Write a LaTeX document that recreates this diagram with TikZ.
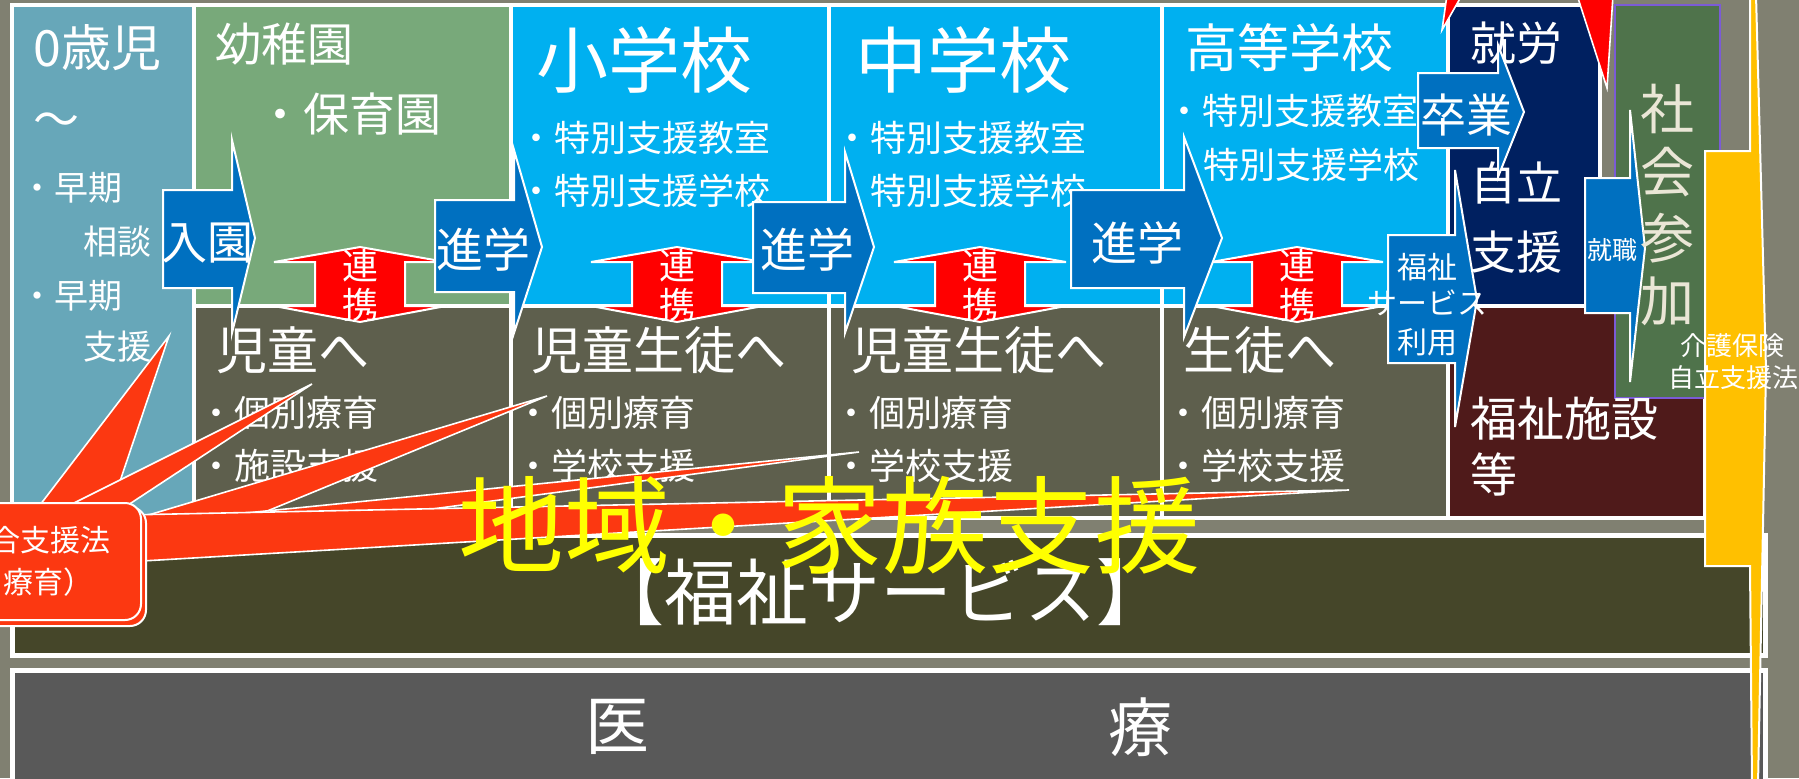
\documentclass[tikz,border=0pt]{standalone}
\usepackage{fontspec}
\setmainfont{Noto Sans CJK JP}
\newcommand\sz[1]{\fontsize{#1}{#1}\selectfont}
\definecolor{bgc}{HTML}{808071}
\definecolor{babyc}{HTML}{67A7B9}
\definecolor{kinderc}{HTML}{78A97A}
\definecolor{schoolc}{HTML}{00B0F0}
\definecolor{lowc}{HTML}{5E5F4D}
\definecolor{navyc}{HTML}{002060}
\definecolor{maroonc}{HTML}{4F1A1A}
\definecolor{shakaic}{HTML}{4F734B}
\definecolor{purpc}{HTML}{7B5BD6}
\definecolor{welfc}{HTML}{454629}
\definecolor{medic}{HTML}{595959}
\definecolor{arrc}{HTML}{0070C0}
\definecolor{calloutc}{HTML}{FC3811}
\definecolor{kaigoc}{HTML}{FFC000}
\definecolor{chiikic}{HTML}{FFFF00}
\definecolor{creamc}{HTML}{EAE6D6}
\begin{document}
\begin{tikzpicture}[x=0.5pt,y=-0.5pt,
  box/.style={draw=white,line width=2pt},
  wt/.style={text=white,inner sep=0pt,anchor=west},
  ct/.style={text=white,inner sep=0pt},
  arr/.style={fill=arrc,draw=white,line width=1pt},
  renkei/.style={fill=red,draw=white,line width=1pt},
  spike/.style={fill=calloutc,draw=white,line width=0.8pt}]
\useasboundingbox (0,0) rectangle (1799,778);
\clip (0,0) rectangle (1799,778);
\fill[bgc] (0,0) rectangle (1799,778);
% bottom bands
\path[box,line width=2.5pt,fill=welfc] (12,535) rectangle (1765,655);
\path[box,line width=2.5pt,fill=medic] (12,670) rectangle (1765,795);
% top boxes
\path[box,fill=babyc] (12,5) rectangle (194,518);
\path[box,fill=kinderc] (194,5) rectangle (511,306);
\path[box,fill=schoolc] (511,5) rectangle (829,306);
\path[box,fill=schoolc] (829,5) rectangle (1162,306);
\path[box,fill=schoolc] (1162,5) rectangle (1448,306);
\path[box,fill=lowc] (194,306) rectangle (511,518);
\path[box,fill=lowc] (511,306) rectangle (829,518);
\path[box,fill=lowc] (829,306) rectangle (1162,518);
\path[box,fill=lowc] (1162,306) rectangle (1448,518);
\path[box,fill=navyc] (1448,5) rectangle (1600,306);
\path[box,fill=maroonc] (1448,306) rectangle (1705,518);
\path[fill=shakaic,draw=purpc,line width=1pt] (1615,5) rectangle (1720,398);
% yellow arrow
\path[fill=kaigoc,draw=white,line width=1pt] (1705,151) -- (1750,151) -- (1750,-5) -- (1756,-5) -- (1766,370) -- (1758,785) -- (1752,785) -- (1750,566) -- (1705,566) -- cycle;
% red triangles at top
\path[fill=red,draw=white,line width=0.8pt] (1447,-5) -- (1442,30) -- (1462,-5) -- cycle;
\path[fill=red,draw=white,line width=0.8pt] (1577,-5) -- (1607,88) -- (1613,-5) -- cycle;
% band texts
\node[ct,font=\sz{36}] (fukushi) at (880,592) {【福祉サービス】};
\node[ct,font=\sz{32}] (i) at (617,727) {医};
\node[ct,font=\sz{32}] (ryo) at (1140,727) {療};
% column 0
\node[wt,font=\sz{25}] (t0) at (33,48) {0歳児};
\node[wt,font=\sz{23}] (t0b) at (33,125) {～};
\node[wt,font=\sz{17}] (t0c) at (20,188) {・早期};
\node[wt,font=\sz{17}] (t0d) at (83,242) {相談};
\node[wt,font=\sz{17}] (t0e) at (20,296) {・早期};
\node[wt,font=\sz{17}] (t0f) at (83,347) {支援};
% column 1
\node[wt,font=\sz{23}] (t1) at (215,44) {幼稚園};
\node[wt,font=\sz{23}] (t1b) at (257,114) {・保育園};
\node[wt,font=\sz{25.5}] (t1c) at (216,350) {児童へ};
\node[wt,font=\sz{18}] (t1d) at (198,413) {・個別療育};
\node[wt,font=\sz{18}] (t1e) at (198,466) {・施設支援};
% column 2
\node[wt,font=\sz{36}] (t2) at (536,60) {小学校};
\node[wt,font=\sz{18}] (t2b) at (518,138) {・特別支援教室};
\node[wt,font=\sz{18}] (t2c) at (518,191) {・特別支援学校};
\node[wt,font=\sz{25.5}] (t2d) at (531,350) {児童生徒へ};
\node[wt,font=\sz{18}] (t2e) at (515,413) {・個別療育};
\node[wt,font=\sz{18}] (t2f) at (515,466) {・学校支援};
% column 3
\node[wt,font=\sz{36}] (t3) at (855,60) {中学校};
\node[wt,font=\sz{18}] (t3b) at (834,138) {・特別支援教室};
\node[wt,font=\sz{18}] (t3c) at (834,191) {・特別支援学校};
\node[wt,font=\sz{25.5}] (t3d) at (851,350) {児童生徒へ};
\node[wt,font=\sz{18}] (t3e) at (833,413) {・個別療育};
\node[wt,font=\sz{18}] (t3f) at (833,466) {・学校支援};
% column 4
\node[wt,font=\sz{26}] (t4) at (1185,48) {高等学校};
\node[wt,font=\sz{18}] (t4b) at (1166,111) {・特別支援教室};
\node[wt,font=\sz{18}] (t4c) at (1203,165) {特別支援学校};
\node[wt,font=\sz{25.5}] (t4d) at (1183,350) {生徒へ};
\node[wt,font=\sz{18}] (t4e) at (1165,413) {・個別療育};
\node[wt,font=\sz{18}] (t4f) at (1165,466) {・学校支援};
% navy / maroon
\node[wt,font=\sz{23}] (t5) at (1470,43) {就労};
\node[wt,font=\sz{23}] (t5b) at (1470,183) {自立};
\node[wt,font=\sz{23}] (t5c) at (1470,252) {支援};
\node[wt,font=\sz{23.5}] (t6) at (1470,419) {福祉施設};
\node[wt,font=\sz{23.5}] (t6b) at (1470,474) {等};
% renkei arrows
\foreach \cx/\nm in {360/ra,677/rb,980/rc,1297/rd}{
  \path[renkei] (\cx-86,262) -- (\cx,247) -- (\cx+86,262) -- (\cx+45,262) -- (\cx+45,306) -- (\cx+86,306) -- (\cx,322) -- (\cx-86,306) -- (\cx-45,306) -- (\cx-45,262) -- cycle;
  \node[ct,font=\sz{18}] (\nm1) at (\cx,266) {連};
  \node[ct,font=\sz{18}] (\nm2) at (\cx,305) {携};
}
% blue arrows
\path[arr] (163,190) -- (232,190) -- (232,140) -- (255,238) -- (232,333) -- (232,288) -- (163,288) -- cycle;
\node[ct,font=\sz{23}] (nyuen) at (207,243) {入園};
\path[arr] (435,200) -- (514,200) -- (514,150) -- (542,247) -- (514,333) -- (514,292) -- (435,292) -- cycle;
\node[ct,font=\sz{23.5}] (shin1) at (483,250) {進学};
\path[arr] (753,202) -- (845,202) -- (845,152) -- (874,247) -- (845,333) -- (845,293) -- (753,293) -- cycle;
\node[ct,font=\sz{23.5}] (shin2) at (807,250) {進学};
\path[arr] (1071,190) -- (1184,190) -- (1184,137) -- (1222,238) -- (1184,337) -- (1184,288) -- (1071,288) -- cycle;
\node[ct,font=\sz{23}] (shin3) at (1137,243) {進学};
\path[arr] (1418,73) -- (1498,73) -- (1498,45) -- (1524,112) -- (1498,177) -- (1498,148) -- (1418,148) -- cycle;
\node[ct,font=\sz{23}] (sotsu) at (1466,115) {卒業};
\path[arr] (1388,235) -- (1455,235) -- (1455,170) -- (1477,300) -- (1455,427) -- (1455,363) -- (1388,363) -- cycle;
\node[ct,font=\sz{15}] (fk1) at (1427,267) {福祉};
\node[ct,font=\sz{15}] (fk2) at (1427,303) {サービス};
\node[ct,font=\sz{15}] (fk3) at (1427,342) {利用};
\path[arr] (1585,178) -- (1630,178) -- (1630,110) -- (1645,248) -- (1630,382) -- (1630,313) -- (1585,313) -- cycle;
\node[ct,font=\sz{12.5}] (shuu) at (1612,250) {就職};
% shakai sanka
\node[ct,text=creamc,font=\sz{27}] (s1) at (1667,109) {社};
\node[ct,text=creamc,font=\sz{27}] (s2) at (1667,172) {会};
\node[ct,text=creamc,font=\sz{27}] (s3) at (1667,238) {参};
\node[ct,text=creamc,font=\sz{27}] (s4) at (1667,301) {加};
\node[ct,font=\sz{13}] (k1) at (1732,346) {介護保険};
\node[ct,font=\sz{13}] (k2) at (1733,378) {自立支援法};
% callout spikes
\path[spike] (40,505) -- (169,336) -- (112,505) -- cycle;
\path[spike] (70,505) -- (312,384) -- (128,505) -- cycle;
\path[spike] (125,522) -- (547,396) -- (260,514) -- (125,540) -- cycle;
\path[spike] (125,525) -- (859,452) -- (125,550) -- cycle;
\path[spike] (125,515) -- (1349,490) -- (125,562) -- cycle;
\path[fill=calloutc,draw=white,line width=1pt,rounded corners=8pt] (-30,507) rectangle (146,626);
\path[fill=calloutc,draw=white,line width=1pt,rounded corners=8pt] (-30,503) rectangle (141,620);
\node[wt,font=\sz{15}] (c1) at (-10,540) {合支援法};
\node[wt,font=\sz{15}] (c2) at (3,582) {療育）};
% big yellow text
\node[ct,text=chiikic,font=\sz{53}] (chiiki) at (829,525) {地域・家族支援};
\end{tikzpicture}
\end{document}
